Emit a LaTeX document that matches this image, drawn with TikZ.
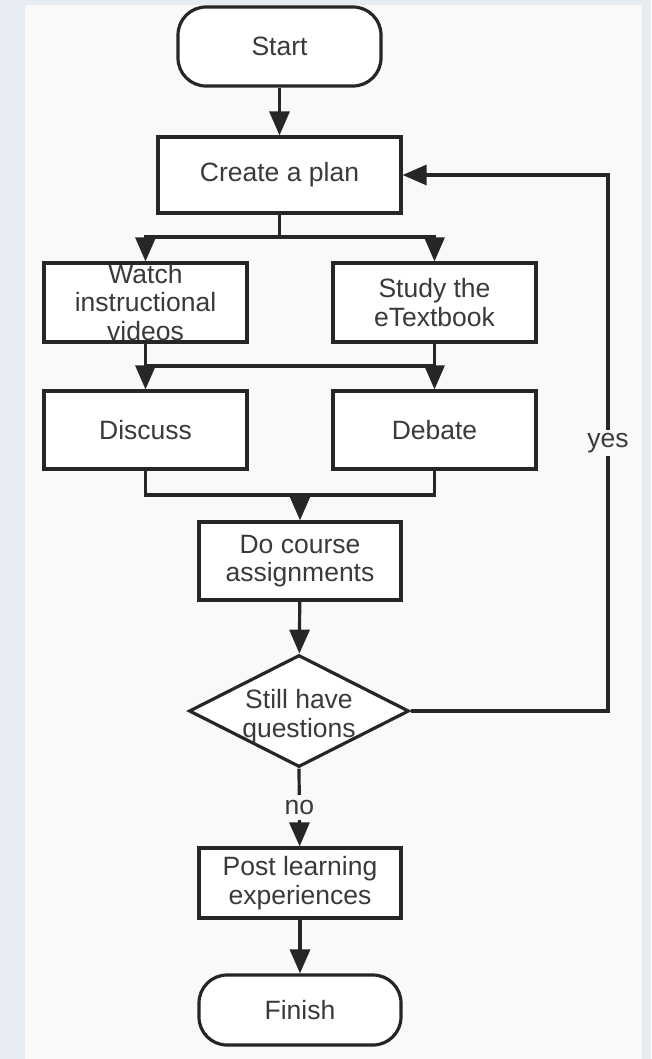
\documentclass[tikz,border=0pt]{standalone}
\usepackage{fontspec}
\setmainfont{Liberation Sans}
\usetikzlibrary{arrows.meta,shapes.geometric}
\definecolor{pagebg}{HTML}{E7ECF2}
\definecolor{panelbg}{HTML}{F9F9F9}
\definecolor{ink}{HTML}{262626}
\definecolor{txt}{HTML}{3A3A3A}

\begin{document}
\begin{tikzpicture}[x=1pt,y=-1pt,
  every node/.style={font=\fontsize{26.5}{28.5}\selectfont, text=txt},
  box/.style={draw=ink, line width=3.2pt, fill=white, inner sep=0pt, align=center},
  terminal/.style={box, rounded corners=28pt},
  decision/.style={diamond, draw=ink, line width=3.2pt, fill=white, inner sep=0pt},
  link/.style={draw=ink, line width=3.2pt},
  arr/.style={link, -{Triangle[length=24pt,width=20pt]}},
  lbl/.style={fill=panelbg, inner sep=3pt}]

% page and panel
\fill[pagebg] (0,0) rectangle (651,1059);
\fill[panelbg] (25,5) rectangle (642,1059);
\useasboundingbox (0,0) rectangle (651,1059);

% nodes
\node[terminal, minimum width=203pt, minimum height=79pt] (start) at (279.5,46.5) {Start};
\node[box, minimum width=243pt, minimum height=76pt] (plan) at (279.5,175) {Create a plan};
\node[box, minimum width=203pt, minimum height=79pt] (watch) at (145.5,302.5) {Watch\\instructional\\videos};
\node[box, minimum width=203pt, minimum height=79pt] (study) at (434.5,302.5) {Study the\\eTextbook};
\node[box, minimum width=203pt, minimum height=78pt] (discuss) at (145.5,430) {Discuss};
\node[box, minimum width=203pt, minimum height=78pt] (debate) at (434.5,430) {Debate};
\node[box, minimum width=202pt, minimum height=78pt] (task) at (300,561) {Do course\\assignments};
\node[decision, minimum width=220pt, minimum height=112pt] (dec) at (299,711) {};
\node[align=center] (dectext) at (299,716) {Still have\\questions};
\node[box, minimum width=202pt, minimum height=70pt] (post) at (300,883) {Post learning\\experiences};
\node[terminal, minimum width=202pt, minimum height=70pt] (finish) at (300,1010) {Finish};

% junction points
\coordinate (split) at (279.5,237);
\coordinate (m1) at (145.5,366);
\coordinate (m2) at (434.5,366);
\coordinate (join) at (300,495);
\coordinate (c1) at (608,711);
\coordinate (c2) at (608,175);

% connectors
\draw[arr] (start) -- (plan);
\draw[link] (plan) -- (split);
\draw[arr] (split) -| (watch);
\draw[arr] (split) -| (study);
\draw[link] (watch) -- (m1) -- (m2) -- (study);
\draw[arr] (m1) -- (discuss);
\draw[arr] (m2) -- (debate);
\draw[link] (discuss) |- (join) -| (debate);
\draw[arr] (join) -- (task);
\draw[arr] (task) -- (dec);
\draw[arr] (dec.east) -- (c1) -- node[lbl] {yes} (c2) -- (plan.east);
\draw[arr] (dec.south) -- node[lbl, inner sep=5pt] {no} (post);
\draw[arr] (post) -- (finish);
\end{tikzpicture}
\end{document}
